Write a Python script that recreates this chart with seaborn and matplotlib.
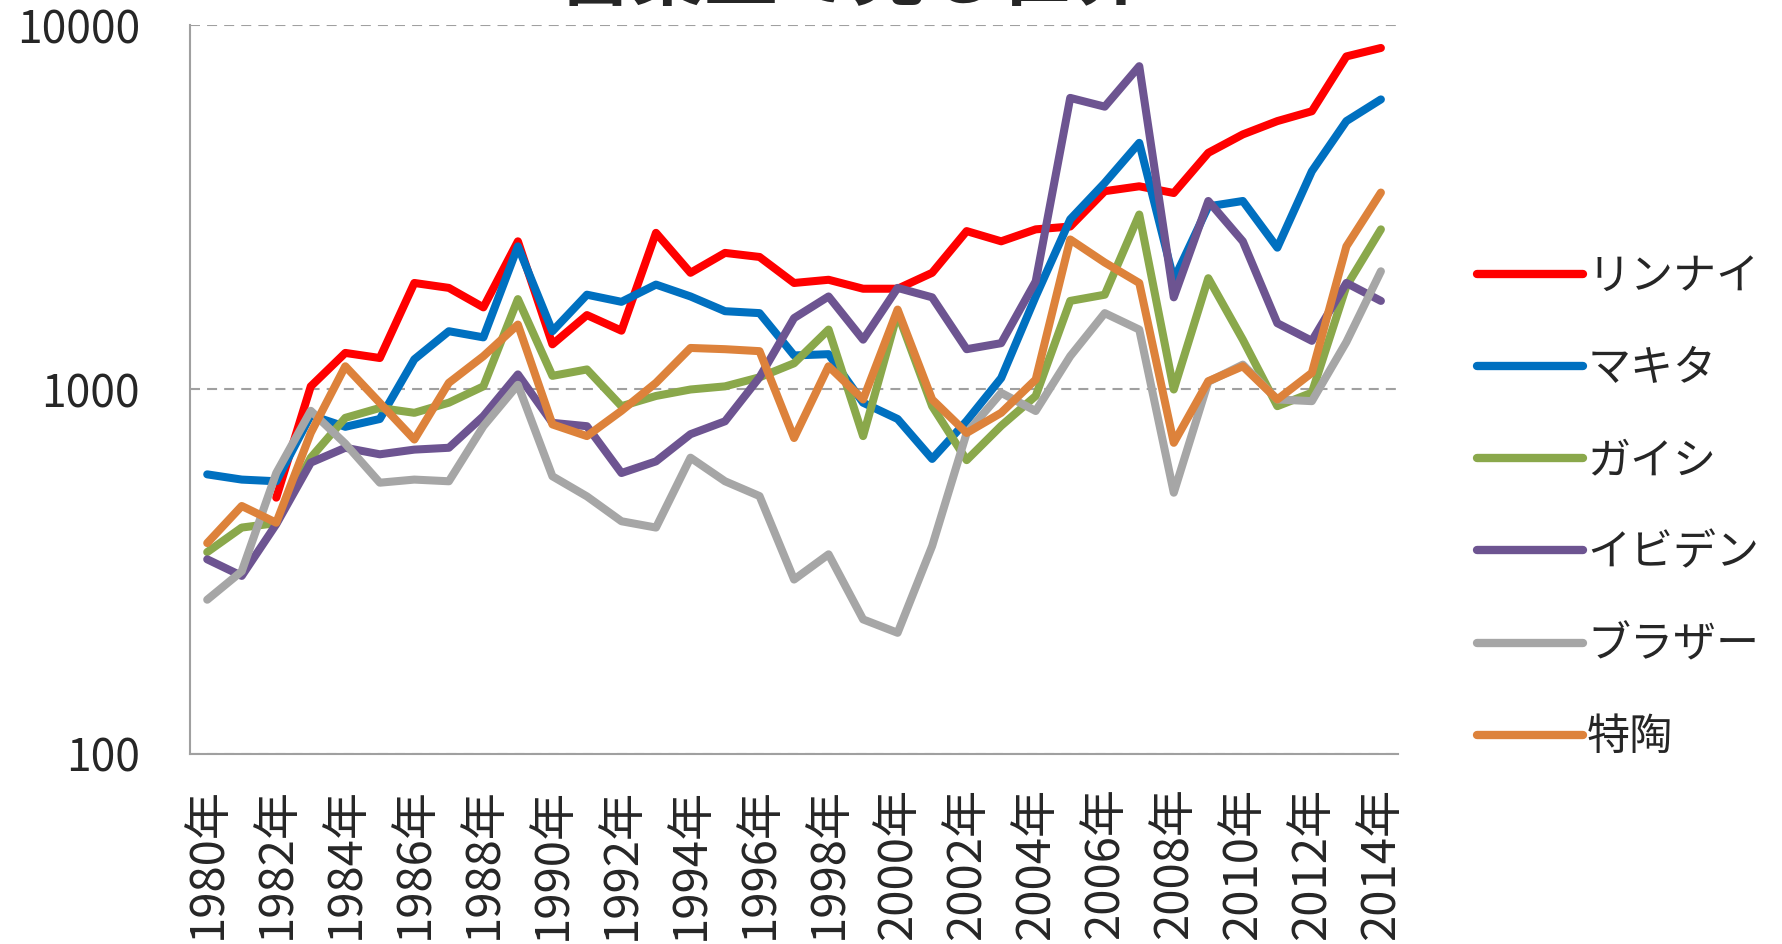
import matplotlib
matplotlib.use('Agg')
from matplotlib import pyplot as plt
from matplotlib.lines import Line2D
from matplotlib.ticker import NullLocator
import pandas as pd
import numpy as np
import seaborn as sns

# データ
years = list(range(1980, 2015))
companies = ['リンナイ', 'マキタ', 'ガイシ', 'イビデン', 'ブラザー', '特陶']
colors = ['#FF0000', '#0070C0', '#8AA84B', '#6D5491', '#A6A6A6', '#DD823B']

rinnai = [np.nan, np.nan, 505, 1020, 1260, 1220, 1960, 1900, 1680, 2550, 1330, 1600, 1450, 2690, 2090, 2370,
          2310, 1960, 2000, 1890, 1890, 2090, 2720, 2550, 2750, 2800, 3500, 3610, 3460, 4460, 5010, 5450, 5800, 8200, 8650]
makita = [585, 566, 560, 850, 790, 830, 1210, 1445, 1390, 2470, 1445, 1820, 1740, 1940, 1800, 1640,
          1620, 1240, 1250, 920, 830, 645, 820, 1075, 1800, 2930, 3690, 4750, 2000, 3180, 3290, 2450, 3970, 5450, 6250]
gaishi = [358, 418, 430, 650, 836, 890, 863, 920, 1020, 1770, 1090, 1135, 900, 960, 1000, 1020,
          1080, 1180, 1460, 745, 1620, 900, 640, 795, 960, 1750, 1820, 3020, 1000, 2020, 1370, 900, 980, 1920, 2750]
ibiden = [342, 308, 427, 630, 692, 664, 684, 692, 845, 1100, 810, 793, 590, 635, 754, 818,
          1080, 1570, 1800, 1370, 1900, 1790, 1290, 1340, 1980, 6310, 5970, 7710, 1790, 3290, 2550, 1520, 1360, 1960, 1750]
brother = [265, 317, 590, 874, 710, 555, 566, 560, 793, 1030, 578, 509, 435, 418, 650, 560,
           510, 301, 353, 234, 215, 372, 760, 979, 873, 1234, 1620, 1460, 521, 1050, 1170, 939, 929, 1350, 2110]
tokutou = [379, 479, 431, 760, 1158, 919, 729, 1043, 1234, 1507, 802, 745, 874, 1043, 1300, 1290,
           1274, 736, 1158, 939, 1657, 939, 760, 863, 1065, 2580, 2230, 1960, 714, 1054, 1158, 939, 1111, 2470, 3470]

df = pd.DataFrame({'year': years, 'リンナイ': rinnai, 'マキタ': makita, 'ガイシ': gaishi,
                   'イビデン': ibiden, 'ブラザー': brother, '特陶': tokutou})
long = df.melt(id_vars='year', var_name='company', value_name='value').dropna()

sns.set_style('white')
plt.rcParams['font.family'] = ['Noto Sans CJK JP', 'DejaVu Sans']

fig = plt.figure(figsize=(17.82, 9.44), dpi=100)
ax = fig.add_axes([0.1066, 0.2013, 0.678, 0.7722])

palette = dict(zip(companies, colors))
sns.lineplot(data=long, x='year', y='value', hue='company', hue_order=companies,
             palette=palette, linewidth=5.8, ax=ax, legend=False)
for l in ax.lines:
    l.set_solid_joinstyle('round')
    l.set_solid_capstyle('round')

ax.set_yscale('log')
ax.set_ylim(100, 10000)
ax.set_xlim(1979.5, 2014.5)
ax.yaxis.set_minor_locator(NullLocator())
ax.set_yticks([100, 1000, 10000])
ax.set_yticklabels(['100', '1000', '10000'], fontsize=32)
xt = years[::2]
ax.set_xticks(xt)
ax.set_xticklabels([f'{y}年' for y in xt], rotation=90, fontsize=34)
ax.tick_params(axis='y', length=0, pad=36)
ax.tick_params(axis='x', length=0, pad=24)
ax.set_xlabel('')
ax.set_ylabel('')

ax.yaxis.grid(True, linestyle=(0, (4.8, 3.4)), color='#A0A0A0', linewidth=1.5)
ax.xaxis.grid(False)
for s in ['top', 'right']:
    ax.spines[s].set_visible(False)
for s in ['left', 'bottom']:
    ax.spines[s].set_color('#A0A0A0')
    ax.spines[s].set_linewidth(1.5)

handles = [Line2D([0], [0], color=c, linewidth=6, solid_capstyle='round') for c in colors]
ax.legend(handles, companies, loc='upper left', bbox_to_anchor=(0.829, 0.730),
          bbox_transform=fig.transFigure, frameon=False, fontsize=31,
          handlelength=2.45, handletextpad=0.1, labelspacing=1.12,
          borderpad=0, borderaxespad=0)

# タイトル (上端で切れている)
fig.text(0.478, 0.984, '営業益で見る世界', ha='center', va='bottom', fontsize=53, fontweight='bold')

fig.savefig('out.png', dpi=100)
